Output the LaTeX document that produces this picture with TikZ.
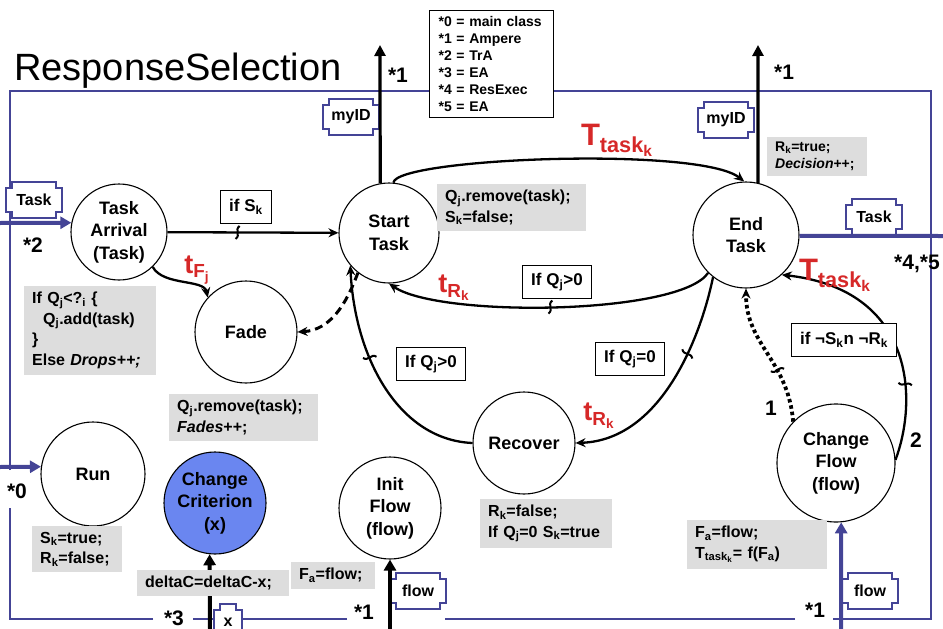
\documentclass[tikz,border=0pt]{standalone}
\usepackage{amsmath}
\usepackage{fontspec}
\setmainfont{Liberation Sans}
\usetikzlibrary{arrows.meta,positioning,decorations.markings}

\definecolor{rsblue}{RGB}{68,68,150}
\definecolor{critblue}{RGB}{106,134,240}
\definecolor{notegray}{RGB}{221,221,221}
\definecolor{tred}{RGB}{214,40,40}

\newcommand\subsc[1]{\textsubscript{#1}}
% notched port box: name, centre, half width, text
\newcommand\portbox[4]{%
  \filldraw[portline] (#2) ++(-#3,-12) -- ++(6,0) -- ++(0,-6) -- ++({2*#3-12},0)
    -- ++(0,6) -- ++(6,0) -- ++(0,24) -- ++(-6,0) -- ++(0,6) -- ++({12-2*#3},0)
    -- ++(0,-6) -- ++(-6,0) -- cycle;
  \node[porttext] (#1) at (#2) {#4};}

\begin{document}
\begin{tikzpicture}[x=1pt,y=-1pt,
  state/.style={circle,draw,line width=1.1pt,inner sep=0pt,minimum size=#1,align=center,
    font=\fontsize{18}{22.5}\selectfont\bfseries},
  note/.style={fill=notegray,anchor=north west,align=left,inner xsep=8pt,inner ysep=6pt,
    text width=#1,font=\fontsize{16}{20.5}\selectfont\bfseries},
  cond/.style={draw,line width=1pt,fill=white,inner xsep=9pt,inner ysep=3pt,minimum height=33pt,
    font=\fontsize{17}{17}\selectfont\bfseries},
  tr/.style={line width=2.3pt,-{Stealth[length=10pt,width=9pt]}},
  dashpath/.style={line width=3pt,dash pattern=on 8pt off 5pt},
  dotpath/.style={line width=3.8pt,dash pattern=on 3.5pt off 3pt},
  bus/.style={line width=4pt,-{Triangle[length=11pt,width=12pt]}},
  upbar/.style={line width=3.2pt,-{Triangle[length=11pt,width=11pt]}},
  rsframe/.style={draw=rsblue,line width=1.3pt},
  portline/.style={draw=rsblue,fill=white,line width=1.2pt},
  porttext/.style={font=\fontsize{16}{16}\selectfont\bfseries,inner sep=0pt},
  extlab/.style={font=\fontsize{21}{21}\selectfont\bfseries,inner sep=1pt},
  tlab/.style={text=tred,font=\fontsize{27}{27}\selectfont\bfseries,inner sep=0pt},
  Tlab/.style={text=tred,font=\fontsize{31}{31}\selectfont\bfseries,inner sep=0pt},
  kink at/.style={postaction={decorate,decoration={markings,mark=at position #1 with
    {\draw[-,solid,line width=2pt] (-2pt,-6.5pt) .. controls (3.5pt,-2.5pt) and (-3.5pt,2.5pt) .. (2pt,6.5pt);}}}}]

 \useasboundingbox (0,0) rectangle (943,629);

 % ---- frame ----
 \draw[rsframe] (10,470) -- (10,91) -- (931,91) -- (931,619) -- (833,619);
 \draw[rsframe] (795,619) -- (445,619);
 \draw[rsframe] (347,619) -- (193,619);
 \draw[rsframe] (153,619) -- (10,619) -- (10,508);
 \node[anchor=base west,inner sep=0pt,font=\fontsize{38}{38}\selectfont] (title) at (14,80) {ResponseSelection};

 % ---- states ----
 \node[state=96] (ta) at (119,232) {Task\\Arrival\\(Task)};
 \node[state=100] (st) at (389,233) {Start\\Task};
 \node[state=106] (et) at (746,235) {End\\Task};
 \node[state=102] (fade) at (246,332) {Fade};
 \node[state=102] (rec) at (524,443) {Recover};
 \node[state=118] (cf) at (836,463) {Change\\Flow\\(flow)};
 \node[state=104] (run) at (93,474) {Run};
 \node[state=102,fill=critblue] (cc) at (215,503) {Change\\Criterion\\(x)};
 \node[state=102] (init) at (390,508) {Init\\Flow\\(flow)};

 % ---- ports ----
 \portbox{pid1}{351,117}{28}{myID}
 \portbox{pid2}{726,120}{28}{myID}
 \portbox{ptask1}{34,200}{28}{Task}
 \portbox{ptask2}{874,217}{28}{Task}
 \portbox{pflow1}{418,591}{28}{flow}
 \portbox{pflow2}{870,591}{28}{flow}
 \portbox{px}{228,622}{14}{x}

 % ---- inputs / outputs ----
 \coordinate (inTask) at (0,223);
 \coordinate (inRun) at (0,467);
 \coordinate (outTask) at (943,236);
 \coordinate (up1) at (380,45);
 \coordinate (up2) at (758,45);
 \coordinate (inX) at (210,629);
 \coordinate (inFlow) at (390,629);
 \coordinate (inFlow2) at (841,629);
 \draw[bus,rsblue] (inTask) -- (ta.169);
 \draw[bus,rsblue] (inRun) -- (run.172);
 \draw[bus,rsblue,-] (et.-1) -- (outTask);
 \draw[bus,rsblue] (inFlow2) -- (cf.-85);
 \draw[bus] (inX) -- (cc.-96);
 \draw[bus] (inFlow) -- (init.south);
 \draw[upbar] (st.100) -- (up1);
 \draw[upbar] (et.77) -- (up2);

 % ---- transitions ----
 \draw[tr,kink at=0.41] (ta) -- (st);
 \draw[tr] (ta.-46) .. controls (163,286) and (204,279) .. (fade.138);
 \draw[tr,dashpath] (st.-128) .. controls (346,305) and (330,330) .. (fade.east);
 \draw[tr] (st.85) .. controls (396,158) and (700,146) .. (et.92);
 \draw[tr,kink at=0.5] (et.-135) .. controls (680,315) and (440,318) .. (st.-90);
 \draw[tr,kink at=0.6] (rec.west) .. controls (400,440) and (355,360) .. (st.-140);
 \draw[tr,kink at=0.35] (et.-128) .. controls (700,340) and (660,440) .. (rec.east);
 \draw[tr,dotpath,kink at=0.38] (cf.136) .. controls (788,360) and (746,345) .. (et.-90);
 \draw[tr,kink at=0.3] (cf.3) .. controls (918,400) and (915,290) .. (et.-48);

 % ---- guards ----
 \node[cond] (cs) at (246,207) {if S\subsc{k}};
 \node[cond] (cq1) at (557,282) {If Q\subsc{j}>0};
 \node[cond] (cq2) at (431,364) {If Q\subsc{j}>0};
 \node[cond] (cq0) at (630,359) {If Q\subsc{j}=0};
 \node[cond] (cn) at (844,340) {if ¬S\subsc{k}n ¬R\subsc{k}};

 % ---- actions ----
 \node[note=116pt] (nta) at (24,286) {If Q\subsc{j}<?\subsc{i} \{\\\hspace*{11pt}Q\subsc{j}.add(task)\\\}\\Else \textit{Drops++;}};
 \node[note=133pt] (nst) at (437,184) {Q\subsc{j}.remove(task);\\S\subsc{k}=false;};
 \node[note=84pt,font=\fontsize{14}{17}\selectfont\bfseries,inner ysep=5pt] (net) at (767,137) {R\subsc{k}=true;\\\textit{Decision}++;};
 \node[note=133pt] (nfade) at (169,394) {Q\subsc{j}.remove(task);\\\textit{Fades}++;};
 \node[note=74pt] (nrun) at (32,526) {S\subsc{k}=true;\\R\subsc{k}=false;};
 \node[note=136pt] (ncc) at (137,570) {deltaC=deltaC-x;};
 \node[note=68pt] (ninit) at (291,562) {F\subsc{a}=flow;};
 \node[note=116pt] (nrec) at (480,499) {R\subsc{k}=false;\\If Q\subsc{j}=0 S\subsc{k}=true};
 \node[note=124pt] (ncf) at (687,520) {F\subsc{a}=flow;\\$\text{T}_{\text{task}_{\text{k}}}$= f(F\subsc{a})};

 % ---- timers ----
 \node[tlab] (tf) at (197,270) {$\text{t}_{\text{F}_{\text{j}}}$};
 \node[tlab] (tr1) at (454,288) {$\text{t}_{\text{R}_{\text{k}}}$};
 \node[tlab] (tr2) at (599,416) {$\text{t}_{\text{R}_{\text{k}}}$};
 \node[Tlab] (tt1) at (617,140) {$\text{T}_{\text{task}_{\text{k}}}$};
 \node[Tlab] (tt2) at (835,275) {$\text{T}_{\text{task}_{\text{k}}}$};

 % ---- links ----
 \node[extlab] (l1a) at (398,75) {*1};
 \node[extlab] (l1b) at (784,72) {*1};
 \node[extlab] (l2) at (33,245) {*2};
 \node[extlab,anchor=west] (l45) at (893,264) {*4,*5};
 \node[extlab] (l0) at (17,491) {*0};
 \node[extlab] (l3) at (174,618) {*3};
 \node[extlab] (l1c) at (364,612) {*1};
 \node[extlab] (l1d) at (815,610) {*1};
 \node[extlab] (n1) at (771,408) {1};
 \node[extlab] (n2) at (916,440) {2};

 % ---- legend ----
 \node[draw,line width=1.2pt,fill=white,anchor=north west,align=left,text width=106pt,
   inner xsep=9pt,inner ysep=6pt,font=\fontsize{14}{17}\selectfont\bfseries] (legend) at (429,10)
   {*0 = main class\\{}*1 = Ampere\\{}*2 = TrA\\{}*3 = EA\\{}*4 = ResExec\\{}*5 = EA};
\end{tikzpicture}
\end{document}
